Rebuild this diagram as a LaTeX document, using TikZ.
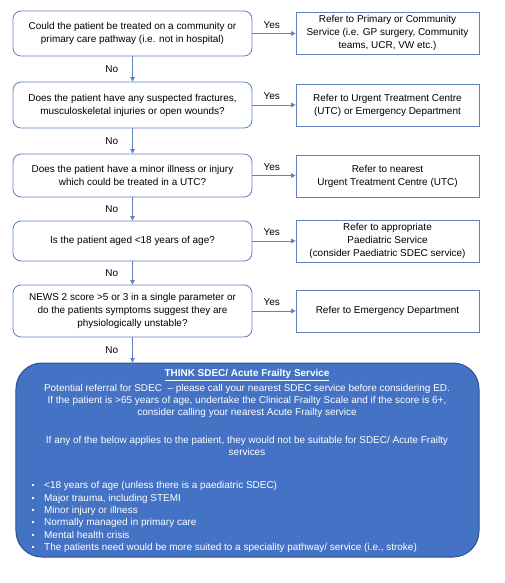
\documentclass[tikz,border=0pt]{standalone}
\usepackage{fontspec}
\setmainfont{Liberation Sans}
\usetikzlibrary{arrows.meta}
\definecolor{edgeblue}{RGB}{95,130,190}
\definecolor{fillblue}{RGB}{68,114,196}
\definecolor{darkblue}{RGB}{47,82,143}
\tikzset{
  qbox/.style={draw=edgeblue, line width=0.8bp, rounded corners=8bp, minimum width=239bp, align=center, inner sep=0pt, font=\fontsize{10}{13}\selectfont},
  rbox/.style={draw=edgeblue, line width=0.8bp, minimum width=183bp, minimum height=42bp, align=center, inner sep=0pt, font=\fontsize{10}{13}\selectfont},
  flow/.style={draw=edgeblue, line width=0.8bp, -{Triangle[length=4.5bp,width=4.5bp]}},
  lbl/.style={font=\fontsize{10}{12}\selectfont, inner sep=0pt},
  wtext/.style={text=white, font=\fontsize{10}{12}\selectfont, inner sep=0pt}
}
\begin{document}
\begin{tikzpicture}[x=1bp,y=-1bp]
\useasboundingbox (0,0) rectangle (505,583);
\fill[white] (0,0) rectangle (505,583);
% questions
\node[qbox, minimum height=45bp] (q1) at (132.5,33.5) {Could the patient be treated on a community or\\primary care pathway (i.e. not in hospital)};
\node[qbox, minimum height=46bp] (q2) at (132.5,105) {Does the patient have any suspected fractures,\\musculoskeletal injuries or open wounds?};
\node[qbox, minimum height=43bp] (q3) at (132.5,175.5) {Does the patient have a minor illness or injury\\which could be treated in a UTC?};
\node[qbox, minimum height=40bp] (q4) at (132.5,241) {Is the patient aged <18 years of age?};
\node[qbox, minimum height=52bp] (q5) at (132.5,311) {NEWS 2 score >5 or 3 in a single parameter or\\do the patients symptoms suggest they are\\physiologically unstable?};
% referrals
\node[rbox] (r1) at (387.5,33) {Refer to Primary or Community\\Service (i.e. GP surgery, Community\\teams, UCR, VW etc.)};
\node[rbox] (r2) at (387.5,105) {Refer to Urgent Treatment Centre\\(UTC) or Emergency Department};
\node[rbox] (r3) at (387.5,176) {Refer to nearest\\Urgent Treatment Centre (UTC)};
\node[rbox] (r4) at (387.5,241) {Refer to appropriate\\Paediatric Service\\(consider Paediatric SDEC service)};
\node[rbox] (r5) at (387.5,311) {Refer to Emergency Department};
% big box
\node[draw=darkblue, fill=fillblue, line width=1bp, rounded corners=26bp, minimum width=463bp, minimum height=194bp, inner sep=0pt] (sdec) at (247.5,460) {};
\node[wtext, font=\fontsize{10}{12}\selectfont\bfseries] (title) at (247,375) {\underline{THINK SDEC/ Acute Frailty Service}};
\node[wtext, align=center] (p1) at (247,401) {Potential referral for SDEC \ -- please call your nearest SDEC service before considering ED.\\If the patient is >65 years of age, undertake the Clinical Frailty Scale and if the score is 6+,\\consider calling your nearest Acute Frailty service};
\node[wtext, align=center] (p2) at (247,446) {If any of the below applies to the patient, they would not be suitable for SDEC/ Acute Frailty\\services};
\newcommand{\sqbul}{\makebox[12bp][l]{\rule[2.5bp]{2bp}{2bp}}}
\node[wtext, align=left, anchor=west, font=\fontsize{10}{12.4}\selectfont] (list) at (32,517) {\sqbul<18 years of age (unless there is a paediatric SDEC)\\\sqbul Major trauma, including STEMI\\\sqbul Minor injury or illness\\\sqbul Normally managed in primary care\\\sqbul Mental health crisis\\\sqbul The patients need would be more suited to a speciality pathway/ service (i.e., stroke)};
% connectors
\draw[flow] (q1.east) -- (r1.west |- q1.east) node[lbl, pos=0.45, above=5bp] (y1) {Yes};
\draw[flow] (q2.east) -- (r2.west |- q2.east) node[lbl, pos=0.45, above=5bp] (y2) {Yes};
\draw[flow] (q3.east) -- (r3.west |- q3.east) node[lbl, pos=0.45, above=5bp] (y3) {Yes};
\draw[flow] (q4.east) -- (r4.west |- q4.east) node[lbl, pos=0.45, above=5bp] (y4) {Yes};
\draw[flow] (q5.east) -- (r5.west |- q5.east) node[lbl, pos=0.45, above=5bp] (y5) {Yes};
\draw[flow] (q1.south) -- (q2.north) node[lbl, midway, left=14bp] (n1) {No};
\draw[flow] (q2.south) -- (q3.north) node[lbl, midway, left=14bp] (n2) {No};
\draw[flow] (q3.south) -- (q4.north) node[lbl, midway, left=14bp] (n3) {No};
\draw[flow] (q4.south) -- (q5.north) node[lbl, midway, left=14bp] (n4) {No};
\draw[flow] (q5.south) -- (sdec.north -| q5.south) node[lbl, midway, left=14bp] (n5) {No};
\end{tikzpicture}
\end{document}
